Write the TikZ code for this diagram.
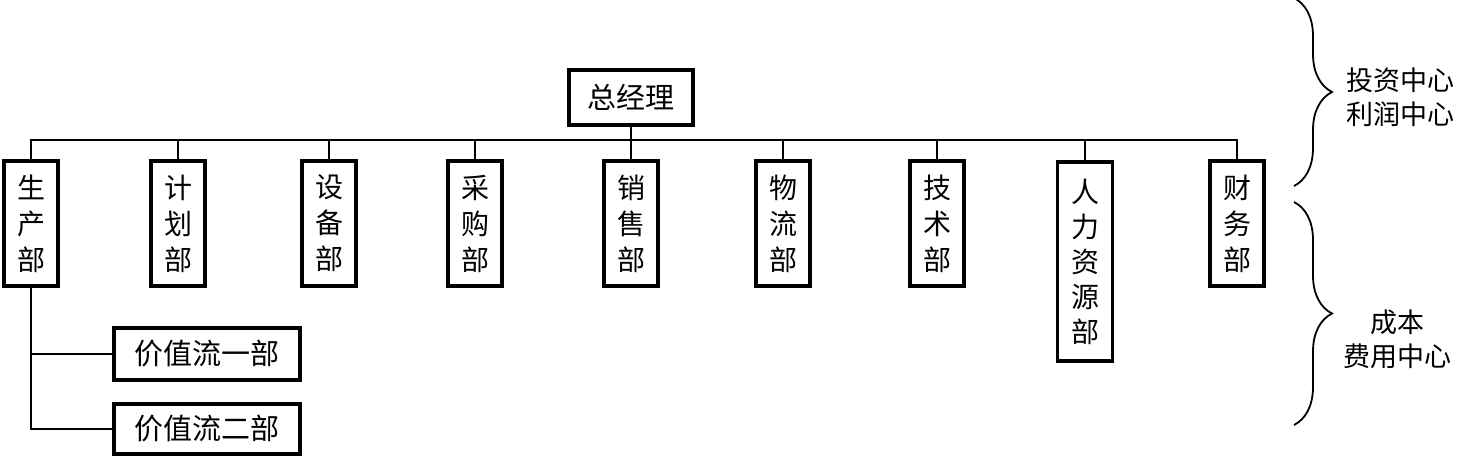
\documentclass[tikz,border=0pt]{standalone}
\usepackage{fontspec}
\setmainfont{Noto Sans CJK SC}
\usetikzlibrary{decorations.pathreplacing}
\begin{document}
\begin{tikzpicture}[x=1pt,y=-1pt,
  box/.style={draw, line width=3.6pt, inner sep=0pt, align=center},
  dept/.style={box, minimum width=54pt, minimum height=125pt, font=\fontsize{28}{36}\selectfont},
  tall/.style={box, minimum width=55pt, minimum height=199pt, font=\fontsize{28}{35}\selectfont},
  wide/.style={box, font=\fontsize{29}{34}\selectfont},
  conn/.style={line width=1.4pt},
  brc/.style={decorate, decoration={brace, amplitude=38pt, aspect=0.5}, line width=1.8pt},
  lbl/.style={align=center, inner sep=0pt, font=\fontsize{27}{34}\selectfont}]
\useasboundingbox (0,0) rectangle (1461,459);
\node[wide, minimum width=124pt, minimum height=55pt] (gm) at (631,97.5) {总经理};
\node[dept] (d1) at (31,223.5) {生\\产\\部};
\node[dept] (d2) at (178,223.5) {计\\划\\部};
\node[dept] (d3) at (329,223.5) {设\\备\\部};
\node[dept] (d4) at (475,223.5) {采\\购\\部};
\node[dept] (d5) at (631,223.5) {销\\售\\部};
\node[dept] (d6) at (783,223.5) {物\\流\\部};
\node[dept] (d7) at (937,223.5) {技\\术\\部};
\node[tall] (d8) at (1085,261.5) {人\\力\\资\\源\\部};
\node[dept] (d9) at (1237,223.5) {财\\务\\部};
\node[wide, minimum width=186pt, minimum height=52pt] (v1) at (207,354) {价值流一部};
\node[wide, minimum width=186pt, minimum height=50pt] (v2) at (207,429) {价值流二部};
\coordinate (bus) at (0,140);
\draw[conn] (d1.north) -- (d1.north |- bus) -- (d9.north |- bus) -- (d9.north);
\draw[conn] (gm.south) -- (gm.south |- bus);
\foreach \n in {d2,d3,d4,d5,d6,d7,d8}
  \draw[conn] (\n.north) -- (\n.north |- bus);
\draw[conn] (d1.south) -- (d1.south |- v2.west) -- (v2.west);
\draw[conn] (d1.south |- v1.west) -- (v1.west);
\coordinate (b1a) at (1294,-2);
\coordinate (b1b) at (1294,186);
\coordinate (b2a) at (1294,202);
\coordinate (b2b) at (1294,425);
\draw[brc] (b1a) -- (b1b);
\draw[brc] (b2a) -- (b2b);
\node[lbl] (t1) at (1400,97) {投资中心\\利润中心};
\node[lbl] (t2) at (1397,339) {成本\\费用中心};
\end{tikzpicture}
\end{document}
